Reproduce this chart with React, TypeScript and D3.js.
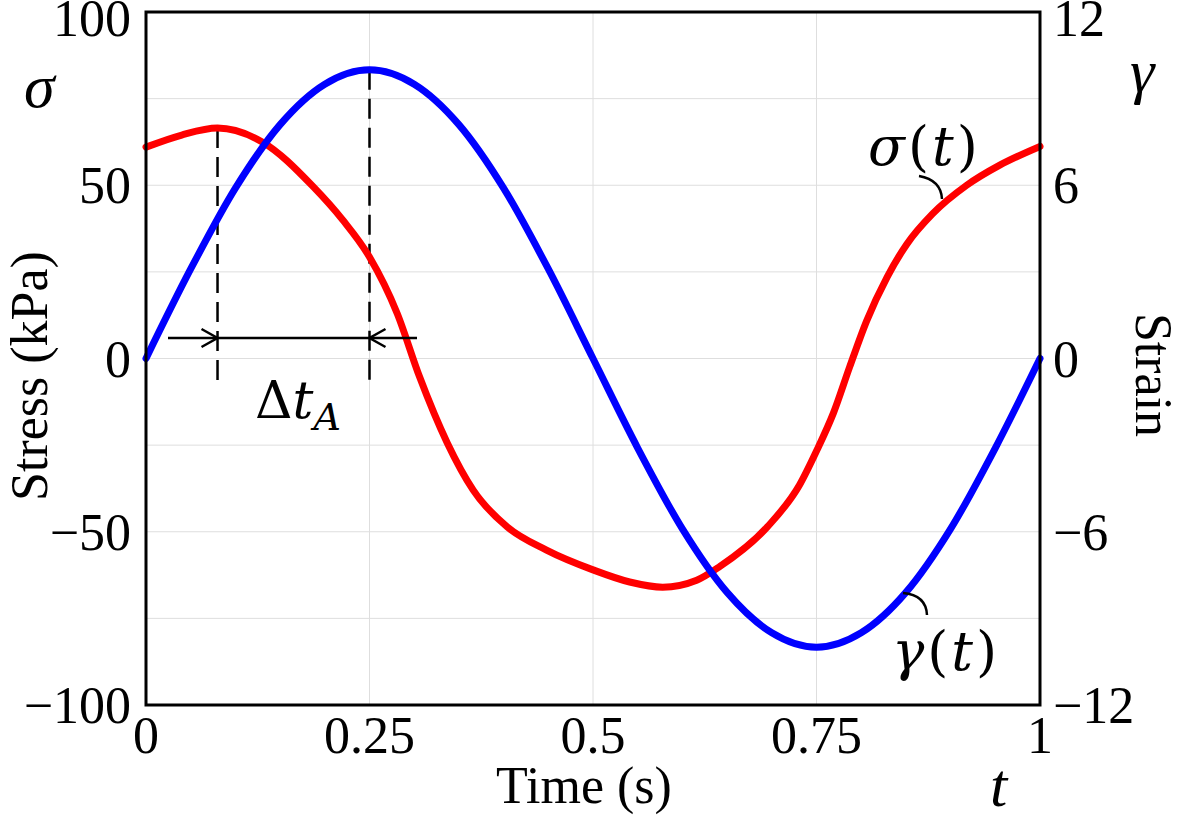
import { useEffect } from 'react';
import * as d3 from 'd3';

// strain gamma(t)
const strainTimes = [0, 0.05, 0.1, 0.15, 0.2, 0.25, 0.3, 0.35, 0.4, 0.45, 0.5, 0.55, 0.6, 0.65, 0.7, 0.75, 0.8, 0.85, 0.9, 0.95, 1];
const strainValues = [0, 3.1, 5.9, 8.1, 9.5, 10, 9.5, 8.1, 5.9, 3.1, 0, -3.1, -5.9, -8.1, -9.5, -10, -9.5, -8.1, -5.9, -3.1, 0];

// stress sigma(t) in kPa
const stressTimes = [0, 0.04, 0.08, 0.13, 0.187, 0.22, 0.25, 0.281, 0.306, 0.337, 0.366, 0.404, 0.448, 0.5, 0.541, 0.578, 0.616, 0.642, 0.695, 0.731, 0.75, 0.769, 0.787, 0.806, 0.829, 0.851, 0.88, 0.918, 0.955, 1];
const stressValues = [61, 64.5, 66.5, 62.5, 49.6, 40, 29.3, 13, -5.3, -24.4, -38, -48.6, -55.3, -61, -64.5, -66, -64, -60, -48.6, -36.5, -26.7, -15.7, -2.5, 10.8, 23.5, 33, 41.8, 50, 55.8, 61.2];

const timeTicks = [0, 0.25, 0.5, 0.75, 1];
const timeTickLabels = ['0', '0.25', '0.5', '0.75', '1'];
const stressTicks = [-100, -50, 0, 50, 100];
const strainTicks = [-12, -6, 0, 6, 12];
const stressGrid = [-75, -50, -25, 0, 25, 50, 75];

// annotation: stress peak time and strain peak time
const stressPeakT = 0.08;
const stressPeakVal = 66.5;
const strainPeakT = 0.25;
const strainPeakVal = 10;

const W = 1188;
const H = 827;
const serif = '"Liberation Serif", "Times New Roman", serif';
const mathFont = '"DejaVu Serif", serif';

const fmt = (v: number) => (v < 0 ? '\u2212' + Math.abs(v) : String(v));

export default function App() {
  useEffect(() => {
    document.body.style.margin = '0';
  }, []);

  const left = 146, right = 1040, top = 12, bottom = 705;
  const x = d3.scaleLinear().domain([0, 1]).range([left, right]);
  const yS = d3.scaleLinear().domain([-100, 100]).range([bottom, top]);
  const yG = d3.scaleLinear().domain([-12, 12]).range([bottom, top]);

  const strainLine = d3.line<number>()
    .x((_, i) => x(strainTimes[i]))
    .y(d => yG(d))
    .curve(d3.curveMonotoneX);
  const stressLine = d3.line<number>()
    .x((_, i) => x(stressTimes[i]))
    .y(d => yS(d))
    .curve(d3.curveMonotoneX);

  const arrowY = 338;
  const xa = x(stressPeakT);
  const xb = x(strainPeakT);

  // keep the top labels inside the page
  const labelBase = (py: number) => Math.max(py + 18, 36);

  return (
    <svg width={W} height={H} style={{ display: 'block', background: '#fff' }}>
      {/* grid */}
      <g stroke="#dedede" strokeWidth={1}>
        {timeTicks.slice(1, -1).map(t => (
          <line key={'gx' + t} x1={x(t)} x2={x(t)} y1={top} y2={bottom} />
        ))}
        {stressGrid.map(v => (
          <line key={'gy' + v} x1={left} x2={right} y1={yS(v)} y2={yS(v)} />
        ))}
      </g>

      {/* dashed markers */}
      <g stroke="#000" strokeWidth={2.5} strokeDasharray="20 9" fill="none">
        <line x1={xa} x2={xa} y1={yS(stressPeakVal)} y2={381} />
        <line x1={xb} x2={xb} y1={yG(strainPeakVal)} y2={387} />
      </g>

      {/* curves */}
      <path d={stressLine(stressValues) || ''} fill="none" stroke="#ff0000" strokeWidth={7} strokeLinecap="round" />
      <path d={strainLine(strainValues) || ''} fill="none" stroke="#0000ff" strokeWidth={7} strokeLinecap="round" />

      {/* delta t arrow */}
      <g stroke="#000" strokeWidth={2.5} fill="none">
        <line x1={168} x2={417} y1={arrowY} y2={arrowY} />
        <path d={`M${xa - 16},${arrowY - 9} L${xa},${arrowY} L${xa - 16},${arrowY + 9}`} />
        <path d={`M${xb + 16},${arrowY - 9} L${xb},${arrowY} L${xb + 16},${arrowY + 9}`} />
      </g>
      <text x={255} y={418} fontFamily={mathFont} fontSize={52} fill="#000">
        <tspan>Δ</tspan>
        <tspan fontStyle="italic">t</tspan>
        <tspan fontStyle="italic" fontSize={38} dy={12}>A</tspan>
      </text>

      {/* curve labels with leaders */}
      <g stroke="#000" strokeWidth={2.5} fill="none">
        <path d="M919,176 Q941,180 942,199" />
        <path d="M903,593 Q926,595 927,615" />
      </g>
      <text x={868} y={165} fontFamily={mathFont} fontSize={54} letterSpacing={3} fill="#000">
        <tspan fontStyle="italic">σ</tspan>
        <tspan>(</tspan>
        <tspan fontStyle="italic">t</tspan>
        <tspan>)</tspan>
      </text>
      <text x={892} y={670} fontFamily={mathFont} fontSize={54} letterSpacing={3} fill="#000">
        <tspan fontStyle="italic">γ</tspan>
        <tspan>(</tspan>
        <tspan fontStyle="italic">t</tspan>
        <tspan>)</tspan>
      </text>

      {/* frame */}
      <rect x={left} y={top} width={right - left} height={bottom - top} fill="none" stroke="#000" strokeWidth={3} />

      {/* tick labels */}
      <g fontFamily={serif} fontSize={52} fill="#000">
        {stressTicks.map(v => (
          <text key={'ls' + v} x={131} y={labelBase(yS(v))} textAnchor="end">{fmt(v)}</text>
        ))}
        {strainTicks.map(v => (
          <text key={'rs' + v} x={1053} y={labelBase(yG(v))} textAnchor="start">{fmt(v)}</text>
        ))}
        {timeTicks.map((t, i) => (
          <text key={'tx' + t} x={x(t)} y={753} textAnchor="middle">{timeTickLabels[i]}</text>
        ))}
        <text x={584} y={803} textAnchor="middle">Time (s)</text>
        <text transform="translate(47,376) rotate(-90)" textAnchor="middle">Stress (kPa)</text>
        <text transform="translate(1136,375) rotate(90)" textAnchor="middle">Strain</text>
      </g>

      {/* axis symbols */}
      <g fontFamily={serif} fontSize={62} fontStyle="italic" fill="#000">
        <text x={24} y={107}>σ</text>
        <text x={1130} y={92}>γ</text>
        <text x={990} y={806}>t</text>
      </g>
    </svg>
  );
}
